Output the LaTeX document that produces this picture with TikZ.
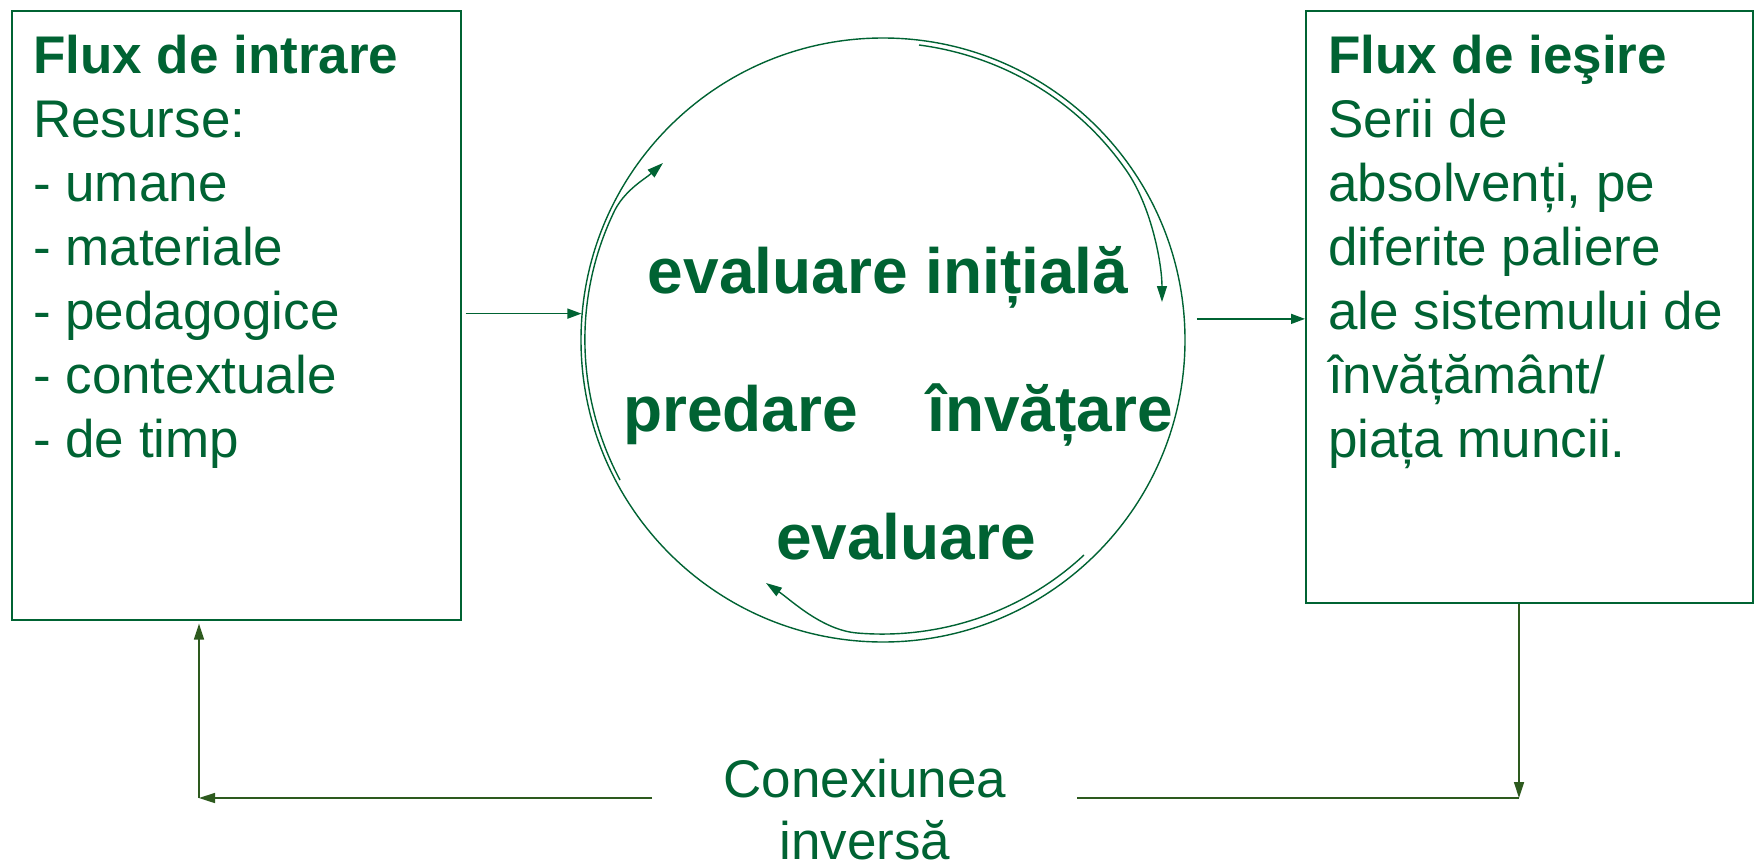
\documentclass[tikz,border=0pt]{standalone}
\usepackage{fontspec}
\setmainfont{Liberation Sans}
\usetikzlibrary{arrows.meta}
\definecolor{grn}{RGB}{0,99,51}
\definecolor{olive}{RGB}{45,90,30}
\begin{document}
\begin{tikzpicture}[x=1pt,y=-1pt,
  boxst/.style={draw=grn, line width=1.6pt, rectangle, inner sep=0, anchor=north west},
  arr/.style={draw=grn, line width=1.4pt, -{Triangle[length=14pt,width=10pt]}},
  fb/.style={draw=olive, line width=1.6pt},
  fbarr/.style={fb, -{Triangle[length=16pt,width=10pt]}},
  boxtxt/.style={anchor=north west, align=left, inner sep=0, text=grn, font=\fontsize{53}{64}\selectfont},
  cyctxt/.style={inner sep=0, text=grn, font=\fontsize{64}{77}\selectfont\bfseries},
  cycarr/.style={draw=grn, line width=1.4pt, -{Triangle[length=16pt,width=10pt]}}
]
\useasboundingbox (0,0) rectangle (1754,862);
\fill[white] (0,0) rectangle (1754,862);

% boxes
\node[boxst, minimum width=449pt, minimum height=609pt] (lb) at (11,10) {};
\node[boxst, minimum width=447pt, minimum height=592pt] (rb) at (1305,10) {};
\node[boxtxt] (lt) at (33,35) {\textbf{Flux de intrare}\\Resurse:\\- umane\\- materiale\\- pedagogice\\- contextuale\\- de timp};
\node[boxtxt] (rt) at (1328,35) {\textbf{Flux de ieşire}\\Serii de\\absolvenți, pe\\diferite paliere\\ale sistemului de\\învățământ/\\piața muncii.};

% circle
\node[circle, draw=grn, line width=1.4pt, minimum size=604pt, inner sep=0] (cyc) at (883,340) {};
\node[cyctxt, anchor=base] (t1) at (888,293) {evaluare inițială};
\node[cyctxt, anchor=base west] (t2) at (623,431) {predare};
\node[cyctxt, anchor=base west] (t3) at (927,431) {învățare};
\node[cyctxt, anchor=base] (t4) at (906,559) {evaluare};

% arrows in and out
\draw[arr] ([xshift=4pt]lb.east |- cyc.175) -- (cyc.175);
\draw[arr] ([xshift=12pt]cyc.4) -- (rb.west |- cyc.4);

% circular arrows
\coordinate (a1s) at (620,480);
\coordinate (a1m) at (613,214);
\coordinate (a1e) at (663,163);
\draw[cycarr] (a1s) .. controls (576,397) and (573,299) .. (a1m) .. controls (623,191) and (645,179) .. (a1e);

\coordinate (a2s) at (919,45);
\coordinate (a2m) at (1126,170);
\coordinate (a2e) at (1162,302);
\draw[cycarr] (a2s) .. controls (1003,56) and (1078,101) .. (a2m) .. controls (1152,207) and (1162,265) .. (a2e);

\coordinate (a3s) at (1084,555);
\coordinate (a3m) at (857,633);
\coordinate (a3e) at (766,583);
\draw[cycarr] (a3s) .. controls (1023,612) and (940,640) .. (a3m) .. controls (822,630) and (791,600) .. (a3e);

% feedback loop
\coordinate (fbR) at (1519,798);
\coordinate (fbL) at (199,798);
\coordinate (gR) at (1077,798);
\coordinate (gL) at (652,798);
\node[anchor=north, align=center, inner sep=0, text=grn, font=\fontsize{53}{62}\selectfont] (fbtxt) at (865,759) {Conexiunea\\inversă};
\draw[fbarr] (rb.south -| fbR) -- (fbR);
\draw[fb] (fbR) -- (gR);
\draw[fbarr] (gL) -- (fbL);
\draw[fbarr] (fbL) -- ([yshift=-3pt]lb.south -| fbL);
\end{tikzpicture}
\end{document}
